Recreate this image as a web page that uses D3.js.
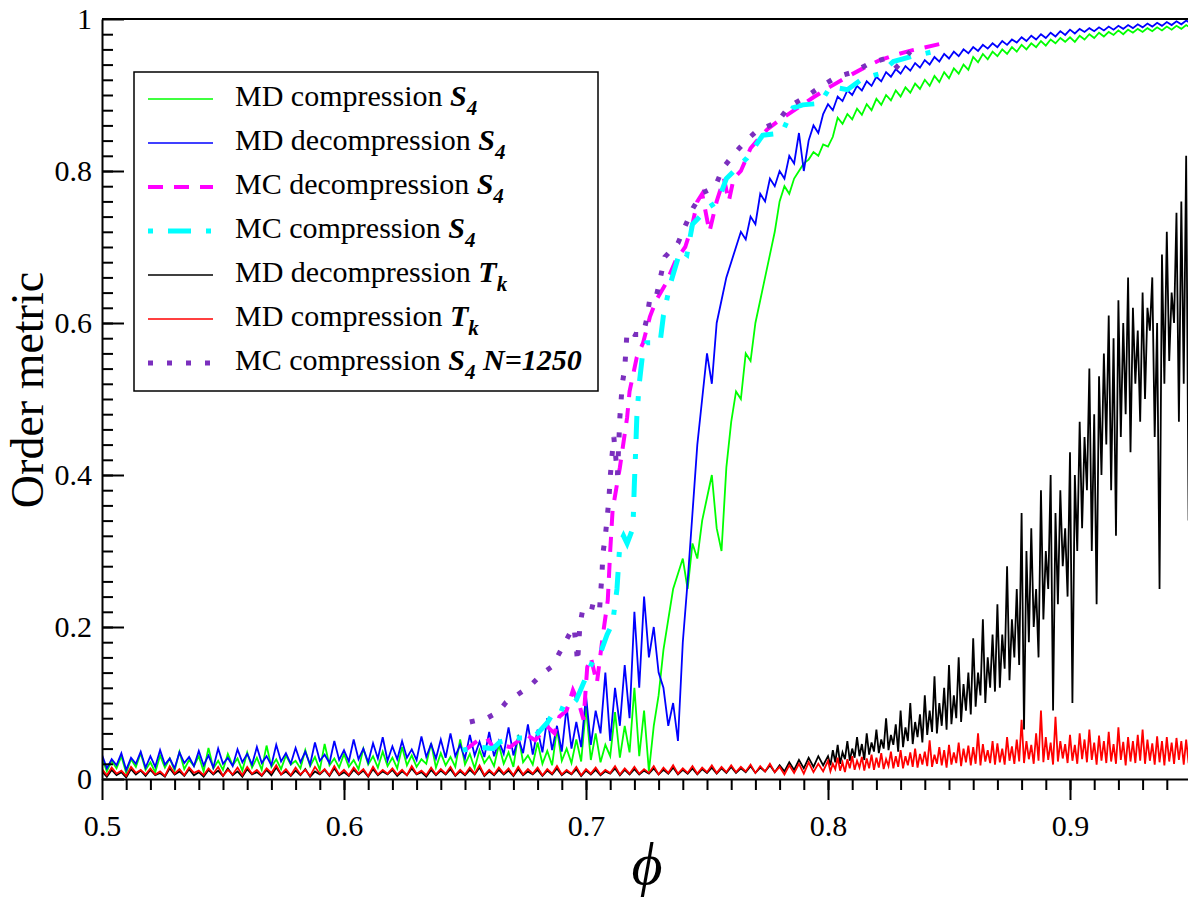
<!DOCTYPE html>
<html>
<head>
<meta charset="utf-8">
<script src="https://cdnjs.cloudflare.com/ajax/libs/d3/7.8.5/d3.min.js"></script>
<style>
body { margin: 0; background: #fff; }
text { font-family: "Liberation Serif", "Times New Roman", serif; fill: #000; }
</style>
</head>
<body>
<script>
// MD S4 runs sampled on phi = 0.500 .. 0.950 every 0.002 (226 samples)
var phiStart = 0.5, phiStep = 0.002;
// MD Tk runs: coarse part 0.500 .. 0.798 (step 0.002), fine part 0.800 .. 0.950 (step 0.001)
var phiFineStart = 0.8, phiFineStep = 0.001;

var mdCompS4 = [
 .028,.010,.024,.014,.030,.008,.026,.016,.034,.012,
 .022,.009,.031,.015,.027,.011,.036,.013,.025,.017,
 .030,.010,.041,.014,.024,.012,.033,.018,.027,.011,
 .035,.015,.028,.012,.044,.016,.026,.013,.031,.019,
 .024,.014,.038,.017,.029,.012,.046,.018,.027,.015,
 .033,.016,.025,.013,.040,.019,.030,.015,.036,.017,
 .028,.014,.042,.018,.031,.016,.026,.020,.047,.015,
 .034,.018,.029,.016,.052,.019,.033,.014,.038,.021,
 .030,.017,.045,.020,.035,.016,.058,.022,.031,.019,
 .048,.020,.037,.018,.066,.024,.040,.021,.052,.023,
 .095,.025,.060,.022,.045,.030,.088,.028,.070,.035,
 .120,.030,.090,.010,.070,.110,.170,.210,.250,.270,
 .290,.250,.310,.290,.340,.370,.400,.330,.300,.410,
 .470,.510,.500,.560,.550,.600,.630,.660,.690,.720,
 .760,.780,.770,.790,.800,.810,.815,.825,.820,.835,
 .832,.845,.870,.862,.875,.868,.882,.874,.888,.880,
 .895,.887,.900,.893,.906,.898,.910,.903,.915,.908,
 .920,.912,.925,.917,.930,.922,.935,.928,.940,.933,
 .950,.943,.954,.947,.957,.951,.960,.954,.963,.957,
 .966,.960,.968,.963,.971,.965,.973,.968,.975,.970,
 .976,.970,.978,.973,.980,.975,.982,.977,.983,.979,
 .985,.980,.986,.982,.987,.983,.988,.984,.989,.985,
 .990,.986,.991,.987,.992,.988
];

var mdDecompS4 = [
 .032,.014,.026,.018,.034,.012,.028,.020,.036,.015,
 .030,.016,.038,.019,.027,.014,.035,.021,.029,.017,
 .037,.018,.031,.015,.040,.020,.028,.017,.039,.022,
 .033,.019,.042,.021,.030,.018,.045,.023,.034,.020,
 .041,.022,.036,.019,.048,.024,.032,.021,.050,.025,
 .038,.023,.052,.026,.040,.022,.047,.027,.055,.024,
 .043,.026,.050,.028,.039,.025,.056,.029,.046,.027,
 .052,.028,.060,.030,.045,.027,.058,.031,.049,.029,
 .062,.030,.050,.033,.068,.031,.055,.034,.072,.032,
 .065,.035,.080,.038,.070,.036,.095,.040,.075,.042,
 .110,.045,.090,.060,.140,.050,.120,.070,.150,.080,
 .220,.120,.240,.160,.200,.140,.120,.070,.100,.050,
 .180,.260,.350,.440,.500,.560,.520,.600,.630,.660,
 .680,.700,.720,.710,.740,.730,.770,.760,.790,.780,
 .800,.790,.820,.810,.850,.800,.840,.860,.850,.875,
 .888,.880,.898,.892,.906,.900,.912,.906,.918,.912,
 .924,.918,.930,.924,.934,.928,.938,.932,.942,.936,
 .946,.940,.950,.944,.954,.948,.957,.951,.960,.955,
 .963,.958,.966,.961,.968,.963,.971,.966,.973,.969,
 .976,.971,.978,.973,.980,.975,.982,.977,.984,.979,
 .986,.981,.987,.983,.988,.984,.989,.985,.990,.986,
 .991,.987,.992,.988,.993,.989,.994,.990,.995,.991,
 .996,.992,.997,.993,.998,.994
];

var mdDecompTkCoarse = [
 .010,.003,.012,.005,.009,.002,.013,.006,.011,.004,
 .012,.005,.008,.003,.014,.006,.010,.004,.013,.005,
 .009,.003,.012,.006,.011,.004,.014,.005,.010,.003,
 .013,.006,.009,.004,.012,.005,.015,.006,.010,.004,
 .011,.005,.013,.003,.010,.006,.012,.004,.014,.005,
 .009,.004,.012,.006,.011,.003,.013,.005,.010,.006,
 .012,.004,.010,.005,.014,.006,.009,.003,.012,.005,
 .011,.006,.013,.004,.010,.005,.012,.006,.015,.004,
 .010,.005,.012,.006,.011,.004,.013,.005,.010,.006,
 .012,.004,.011,.006,.014,.005,.010,.006,.013,.004,
 .011,.006,.012,.005,.010,.007,.014,.005,.012,.006,
 .013,.006,.011,.007,.014,.006,.012,.007,.015,.006,
 .012,.007,.014,.006,.013,.008,.015,.007,.014,.008,
 .016,.008,.014,.009,.017,.008,.015,.010,.018,.009,
 .018,.010,.022,.012,.025,.014,.028,.016,.030,.018
];

var mdDecompTkFine = [
 .030,.018,.038,.022,.045,.020,.035,.026,.050,.024,
 .040,.028,.055,.030,.046,.025,.060,.032,.048,.036,
 .065,.034,.052,.040,.080,.038,.058,.045,.072,.036,
 .090,.042,.068,.050,.100,.046,.075,.055,.085,.048,
 .110,.058,.090,.062,.135,.060,.100,.070,.120,.065,
 .150,.072,.110,.080,.160,.075,.125,.090,.140,.085,
 .185,.095,.140,.110,.210,.100,.160,.120,.190,.115,
 .230,.120,.190,.145,.280,.130,.210,.160,.250,.150,
 .350,.065,.300,.180,.330,.200,.250,.160,.380,.210,
 .300,.250,.400,.090,.350,.230,.380,.280,.330,.240,
 .430,.100,.400,.300,.470,.330,.450,.380,.540,.300,
 .480,.230,.530,.400,.560,.440,.610,.380,.580,.320,
 .630,.450,.600,.480,.660,.430,.620,.520,.590,.470,
 .640,.500,.620,.590,.660,.450,.600,.250,.690,.520,
 .720,.550,.640,.600,.745,.470,.760,.520,.820,.340,
 .450
];

var mdCompTkCoarse = [
 .013,.005,.015,.007,.011,.004,.016,.008,.012,.006,
 .014,.006,.010,.004,.017,.007,.013,.005,.015,.008,
 .011,.005,.014,.007,.016,.004,.012,.006,.015,.005,
 .016,.007,.012,.005,.014,.008,.018,.006,.013,.005,
 .015,.006,.012,.004,.016,.007,.013,.005,.017,.006,
 .012,.005,.015,.007,.013,.004,.016,.006,.012,.007,
 .014,.006,.012,.005,.017,.007,.011,.005,.015,.006,
 .013,.007,.016,.005,.012,.006,.015,.007,.018,.005,
 .012,.006,.015,.007,.014,.005,.016,.006,.013,.007,
 .015,.005,.013,.007,.017,.006,.012,.007,.016,.005,
 .013,.007,.015,.006,.012,.008,.017,.006,.014,.007,
 .016,.007,.013,.008,.017,.006,.015,.008,.018,.007,
 .014,.008,.017,.007,.015,.009,.018,.008,.016,.009,
 .018,.009,.016,.010,.019,.008,.017,.010,.020,.009,
 .016,.006,.018,.008,.020,.007,.022,.009,.020,.010
];

var mdCompTkFine = [
 .024,.010,.020,.013,.028,.011,.022,.009,.026,.014,
 .030,.012,.024,.015,.029,.011,.027,.014,.032,.012,
 .028,.015,.034,.013,.026,.017,.036,.014,.030,.016,
 .038,.014,.030,.018,.035,.016,.040,.015,.033,.019,
 .036,.017,.051,.016,.032,.020,.042,.018,.038,.015,
 .045,.019,.035,.021,.048,.017,.040,.022,.044,.018,
 .042,.020,.060,.018,.046,.023,.038,.021,.050,.019,
 .047,.022,.040,.019,.055,.024,.043,.020,.052,.023,
 .078,.021,.050,.026,.045,.020,.060,.024,.090,.022,
 .055,.025,.048,.019,.082,.023,.050,.027,.046,.021,
 .058,.024,.045,.020,.060,.026,.052,.022,.065,.025,
 .048,.019,.057,.024,.050,.021,.062,.023,.046,.020,
 .068,.025,.049,.018,.055,.023,.050,.021,.058,.024,
 .065,.020,.052,.024,.047,.019,.056,.022,.050,.018,
 .055,.023,.048,.020,.054,.025,.050,.019,.052,.021,
 .045
];

// MC runs: [phi, S4]
var mcDecompS4 = [
 [.650,.038],[.655,.050],[.659,.054],[.662,.040],[.665,.045],[.6686,.042],[.672,.050],
 [.6755,.058],[.679,.051],[.684,.069],[.687,.060],[.689,.082],[.692,.090],[.6946,.117],
 [.697,.100],[.699,.078],[.7005,.147],[.702,.160],[.7045,.126],[.707,.190],[.709,.235],
 [.710,.300],[.711,.354],[.714,.410],[.717,.476],[.718,.510],[.721,.555],[.7236,.574],
 [.7264,.608],[.729,.630],[.733,.652],[.7372,.683],[.741,.700],[.744,.730],[.746,.760],
 [.748,.770],[.751,.720],[.754,.760],[.757,.790],[.759,.760],[.761,.790],[.764,.800],
 [.768,.830],[.772,.845],[.775,.855],[.780,.867],[.787,.882],[.794,.897],[.801,.911],
 [.808,.924],[.815,.936],[.8215,.946],[.828,.953],[.835,.959],[.8475,.968]
];

var mcCompS4 = [
 [.649,.038],[.656,.042],[.6616,.040],[.6645,.049],[.6715,.054],[.677,.054],[.680,.060],
 [.684,.074],[.688,.095],[.692,.090],[.696,.104],[.700,.134],[.703,.157],[.706,.166],
 [.7087,.190],[.711,.205],[.7128,.250],[.714,.310],[.7155,.320],[.717,.310],[.7194,.330],
 [.720,.390],[.7205,.430],[.721,.476],[.722,.520],[.7236,.565],[.725,.574],[.7306,.574],
 [.732,.610],[.7347,.650],[.739,.696],[.7417,.690],[.744,.730],[.751,.753],[.7545,.760],
 [.758,.790],[.7665,.817],[.773,.847],[.781,.850],[.7855,.883],[.7896,.887],[.7967,.889],
 [.801,.911],[.808,.907],[.8145,.922],[.8215,.928],[.827,.944],[.835,.951],[.8475,.960]
];

var mcCompS4N1250 = [
 [.652,.075],[.659,.080],[.6637,.088],[.667,.101],[.6736,.115],[.678,.126],[.682,.139],
 [.686,.148],[.6897,.170],[.6934,.192],[.695,.200],[.696,.174],[.6965,.153],[.6975,.203],
 [.699,.229],[.7045,.225],[.7055,.218],[.7066,.270],[.707,.297],[.708,.320],[.7088,.345],
 [.7095,.370],[.710,.397],[.7107,.424],[.7115,.450],[.713,.400],[.714,.476],[.715,.520],
 [.716,.540],[.717,.590],[.720,.585],[.7236,.585],[.725,.604],[.7265,.634],[.729,.634],
 [.7326,.687],[.738,.705],[.7413,.730],[.7442,.751],[.748,.771],[.7533,.779],[.7566,.804],
 [.7616,.824],[.7665,.841],[.7707,.853],[.779,.864],[.784,.885],[.7905,.897],[.7975,.912],
 [.8037,.924],[.8103,.930],[.8174,.942],[.8248,.949],[.8285,.937],[.834,.957]
];

var xMajorTicks = [0.5, 0.6, 0.7, 0.8, 0.9];
var yMajorTicks = [0, 0.2, 0.4, 0.6, 0.8, 1];

function gridSeries(values, start, step) {
	return values.map(function(v, i) { return [start + i * step, v]; });
}

function tkSeries(coarse, fine) {
	return gridSeries(coarse, phiStart, phiStep).concat(gridSeries(fine, phiFineStart, phiFineStep));
}

var series = [
	{ name: "MD compression ",   sym: "S", sub: "4", tail: "",        data: gridSeries(mdCompS4, phiStart, phiStep),   color: "#00ff00", width: 1.8, dash: null },
	{ name: "MD decompression ", sym: "S", sub: "4", tail: "",        data: gridSeries(mdDecompS4, phiStart, phiStep), color: "#0000ff", width: 1.8, dash: null },
	{ name: "MC decompression ", sym: "S", sub: "4", tail: "",        data: mcDecompS4,                                color: "#ff00ff", width: 4,   dash: "15,11" },
	{ name: "MC compression ",   sym: "S", sub: "4", tail: "",        data: mcCompS4,                                  color: "#00ffff", width: 5,   dash: "5,15,23,15" },
	{ name: "MD decompression ", sym: "T", sub: "k", tail: "",        data: tkSeries(mdDecompTkCoarse, mdDecompTkFine), color: "#000000", width: 1.8, dash: null },
	{ name: "MD compression ",   sym: "T", sub: "k", tail: "",        data: tkSeries(mdCompTkCoarse, mdCompTkFine),     color: "#ff0000", width: 1.8, dash: null },
	{ name: "MC compression ",   sym: "S", sub: "4", tail: " N=1250", data: mcCompS4N1250,                             color: "#7b2fbe", width: 5,   dash: "5,14" }
];

var svg_width = 1188, svg_height = 898;
var svg = d3.select("body").append("svg").attr("width", svg_width).attr("height", svg_height);

// note: "top" is taken by window.top, so plot edges get their own names
var plotLeft = 102, plotTop = 19, plotBottom = 779, plotRight = 1191;

var x = d3.scaleLinear().domain([0.5, 0.95]).range([plotLeft, plotRight]);
var y = d3.scaleLinear().domain([0, 1]).range([plotBottom, plotTop]);

svg.append("clipPath").attr("id", "plotclip")
	.append("rect").attr("x", plotLeft).attr("y", plotTop)
	.attr("width", plotRight - plotLeft).attr("height", plotBottom - plotTop);

var line = d3.line()
	.x(function(d) { return x(d[0]); })
	.y(function(d) { return y(d[1]); });

var plot = svg.append("g").attr("clip-path", "url(#plotclip)");

series.forEach(function(s) {
	plot.append("path")
		.datum(s.data)
		.attr("fill", "none")
		.attr("stroke", s.color)
		.attr("stroke-width", s.width)
		.attr("stroke-linejoin", "miter")
		.attr("stroke-dasharray", s.dash)
		.attr("d", line);
});

// axes
var fmt = function(d) { return (d === 0 || d === 1) ? String(d) : d.toFixed(1); };

var xAxis = svg.append("g").attr("transform", "translate(0," + plotBottom + ")");
xAxis.call(d3.axisBottom(x).tickValues(d3.range(51, 95).map(function(k) { return k / 100; }))
	.tickSize(11).tickSizeOuter(0).tickFormat(""));
xAxis.call(function(g) { g.select(".domain").remove(); });
var xAxisMajor = svg.append("g").attr("transform", "translate(0," + plotBottom + ")")
	.call(d3.axisBottom(x).tickValues(xMajorTicks).tickSize(21).tickSizeOuter(0).tickPadding(10).tickFormat(fmt));
xAxisMajor.selectAll("text").style("font-size", "30px").attr("dy", "0.85em");

var yAxis = svg.append("g").attr("transform", "translate(" + plotLeft + ",0)");
yAxis.call(d3.axisLeft(y).tickValues(d3.range(1, 50).map(function(k) { return k / 50; }))
	.tickSizeInner(-11).tickSizeOuter(0).tickFormat(""));
yAxis.call(function(g) { g.select(".domain").remove(); });
var yAxisMajor = svg.append("g").attr("transform", "translate(" + plotLeft + ",0)")
	.call(d3.axisLeft(y).tickValues(yMajorTicks).tickSizeInner(-22).tickSizeOuter(0).tickPadding(10).tickFormat(fmt));
yAxisMajor.selectAll("text").style("font-size", "30px");

svg.selectAll(".tick line").attr("stroke", "#000").attr("stroke-width", 2);
svg.selectAll(".domain").attr("stroke", "#000").attr("stroke-width", 2);

// frame: top edge
svg.append("line").attr("x1", plotLeft).attr("x2", svg_width).attr("y1", plotTop).attr("y2", plotTop)
	.attr("stroke", "#000").attr("stroke-width", 2);

// axis titles
svg.append("text")
	.attr("transform", "translate(43,390) rotate(-90)")
	.attr("text-anchor", "middle")
	.style("font-size", "46px")
	.text("Order metric");

svg.append("text")
	.attr("x", 647).attr("y", 884)
	.attr("text-anchor", "middle")
	.style("font-size", "60px")
	.style("font-style", "italic")
	.text("\u03d5");

// legend
var legend = svg.append("g");
legend.append("rect")
	.attr("x", 134).attr("y", 72).attr("width", 464).attr("height", 319)
	.attr("fill", "#fff").attr("stroke", "#000").attr("stroke-width", 1.5);

var row = legend.selectAll(".row")
	.data(series)
	.enter().append("g")
	.attr("class", "row")
	.attr("transform", function(d, i) { return "translate(0," + (99 + i * 44) + ")"; });

row.append("line")
	.attr("x1", 148).attr("x2", 213).attr("y1", 0).attr("y2", 0)
	.attr("stroke", function(d) { return d.color; })
	.attr("stroke-width", function(d) { return d.dash ? d.width : 1.5; })
	.attr("stroke-dasharray", function(d) { return d.dash; });

var label = row.append("text")
	.attr("x", 235).attr("y", 7)
	.style("font-size", "30px");
label.append("tspan").text(function(d) { return d.name; });
label.append("tspan")
	.style("font-style", "italic").style("font-weight", "bold")
	.text(function(d) { return d.sym; });
label.append("tspan")
	.attr("dy", 9)
	.style("font-style", "italic").style("font-weight", "bold").style("font-size", "21px")
	.text(function(d) { return d.sub; });
label.filter(function(d) { return d.tail; }).append("tspan")
	.attr("dy", -9)
	.style("font-style", "italic").style("font-weight", "bold")
	.text(function(d) { return d.tail; });
</script>
</body>
</html>
